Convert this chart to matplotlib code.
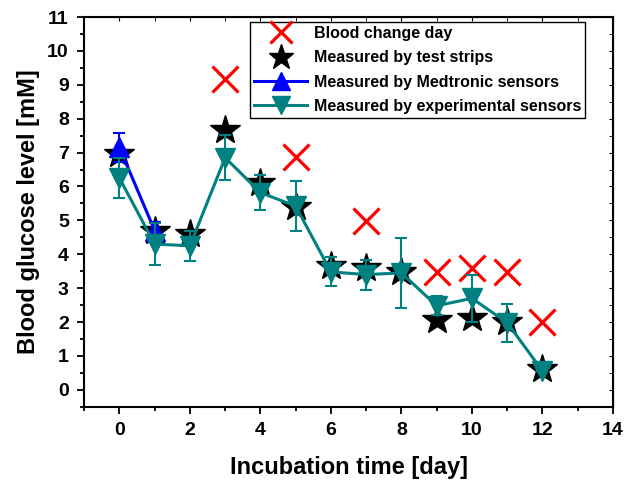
import numpy as np
import matplotlib.pyplot as plt
from matplotlib.ticker import MultipleLocator
from matplotlib.lines import Line2D

plt.rcParams['font.family'] = ['Liberation Sans', 'DejaVu Sans']
plt.rcParams['font.weight'] = 'bold'

# data
change_days = [3, 5, 7, 9, 10, 11, 12]
change_vals = [9.18, 6.88, 4.98, 3.48, 3.58, 3.48, 2.0]

days = np.arange(0, 13)
strip_vals = [6.97, 4.7, 4.6, 7.68, 6.1, 5.4, 3.65, 3.6, 3.47, 2.05, 2.12, 2.0, 0.62]

med_days = [0, 1]
med_vals = [7.15, 4.7]
med_err = [0.42, 0.25]

exp_vals = [6.25, 4.3, 4.25, 6.85, 5.82, 5.42, 3.48, 3.4, 3.45, 2.48, 2.7, 1.98, 0.56]
exp_err = [0.58, 0.62, 0.45, 0.66, 0.52, 0.74, 0.43, 0.44, 1.03, 0.28, 0.7, 0.56, 0.0]

labels = ['Blood change day', 'Measured by test strips',
          'Measured by Medtronic sensors', 'Measured by experimental sensors']

teal = '#008080'

fig = plt.figure(figsize=(6.28, 4.86), dpi=100)
ax = fig.add_axes([0.134, 0.163, 0.842, 0.802])

h1, = ax.plot(change_days, change_vals, ls='none', marker='x', ms=19, mew=2.3,
              color='#ff0000', zorder=3)
h2, = ax.plot(days, strip_vals, ls='none', marker='*', ms=22, color='black', zorder=4)
ax.errorbar(med_days, med_vals, yerr=med_err, color='#0000ff', lw=2.2,
            marker='^', ms=15, capsize=4, elinewidth=1.5, capthick=1.5, zorder=5)
ax.errorbar(days, exp_vals, yerr=exp_err, color=teal, lw=2.2,
            marker='v', ms=15, capsize=4, elinewidth=1.5, capthick=1.5, zorder=6)

# legend handles without the error bar whiskers
h3 = Line2D([], [], color='#0000ff', lw=2.2, marker='^', ms=15)
h4 = Line2D([], [], color=teal, lw=2.2, marker='v', ms=15)

ax.set_xlim(-1, 14)
ax.set_ylim(-0.5, 11)
ax.xaxis.set_major_locator(MultipleLocator(2))
ax.xaxis.set_minor_locator(MultipleLocator(1))
ax.yaxis.set_major_locator(MultipleLocator(1))
ax.yaxis.set_minor_locator(MultipleLocator(0.5))

for s in ax.spines.values():
    s.set_linewidth(1.5)

ax.tick_params(which='both', direction='out', top=False, right=False, width=1.3)
ax.tick_params(which='major', length=5, labelsize=14, pad=6)
ax.tick_params(which='minor', length=3)
for lab in ax.get_xticklabels() + ax.get_yticklabels():
    lab.set_fontweight('bold')

# mirrored ticks on top/right
ax2 = ax.secondary_xaxis('top')
ax2.xaxis.set_major_locator(MultipleLocator(2))
ax2.xaxis.set_minor_locator(MultipleLocator(1))
ax2.tick_params(which='both', direction='in', length=3, labeltop=False)
ax3 = ax.secondary_yaxis('right')
ax3.yaxis.set_major_locator(MultipleLocator(1))
ax3.yaxis.set_minor_locator(MultipleLocator(0.5))
ax3.tick_params(which='both', direction='in', length=3, labelright=False)

ax.set_xlabel('Incubation time [day]', fontsize=17, fontweight='bold', labelpad=12)
ax.set_ylabel('Blood glucose level [mM]', fontsize=17, fontweight='bold', labelpad=5)

leg = ax.legend([h1, h2, h3, h4], labels, loc='upper right',
                bbox_to_anchor=(0.947, 0.987), fontsize=11.5,
                frameon=True, fancybox=False, edgecolor='black', framealpha=1,
                borderpad=0.25, labelspacing=0.58, handlelength=3.3,
                handletextpad=0.4, borderaxespad=0, markerscale=0.85)
leg.get_frame().set_linewidth(1.0)
for t in leg.get_texts():
    t.set_fontweight('bold')

fig.savefig('out.png', dpi=100)
